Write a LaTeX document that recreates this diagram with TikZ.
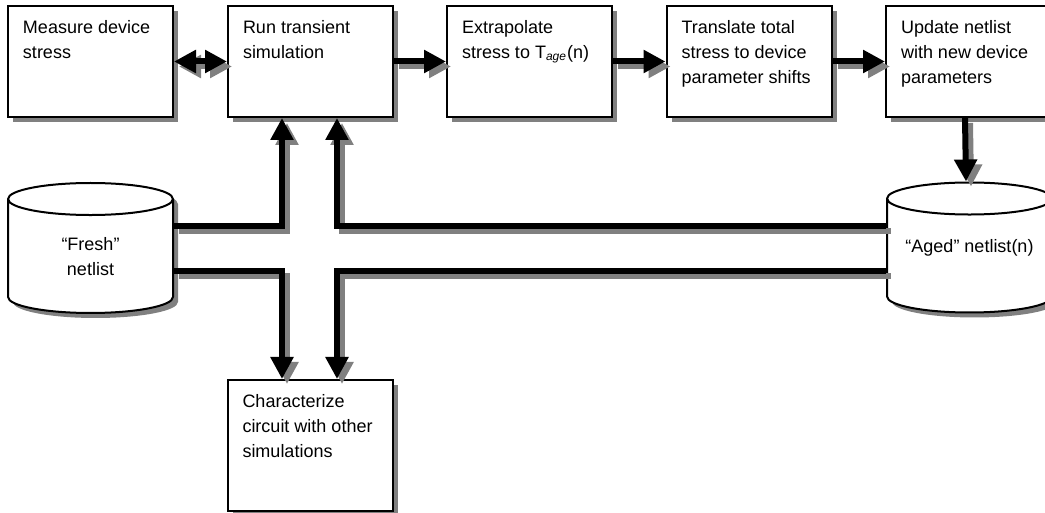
\documentclass[tikz,border=0pt]{standalone}
\usepackage{fontspec}
\setmainfont{Liberation Sans}
\usetikzlibrary{arrows.meta,shapes.geometric,shadows}
\definecolor{shadegray}{RGB}{128,128,128}
\newcommand{\boxtext}[2]{\parbox[c][#1][t]{67.5pt}{\raggedright #2}}
\newcommand{\lift}[2]{\raisebox{#1}[\height][\depth]{#2}}

\begin{document}
\begin{tikzpicture}[x=0.5pt,y=-0.5pt,
font=\fontsize{9}{12.5}\selectfont,
>={Triangle[length=11pt,width=11pt]},
stepbox/.style={draw, line width=1pt, fill=white, inner xsep=7.5pt, inner ysep=7pt,
  drop shadow={shadow xshift=2.5pt, shadow yshift=-2.5pt, fill=shadegray, opacity=1}},
netlist/.style={cylinder, shape border rotate=90, aspect=0.485, draw, line width=1pt,
  fill=white, minimum width=82.5pt, minimum height=65pt, align=center, inner sep=2pt,
  anchor=shape center,
  drop shadow={shadow xshift=2.5pt, shadow yshift=-2.5pt, fill=shadegray, opacity=1}},
shade/.style={preaction={draw=shadegray, line width=3pt, #1,
  transform canvas={xshift=2.5pt,yshift=-2.5pt}}},
conn/.style={line width=3pt, ->, shade=->},
twoway/.style={line width=3pt, <->, shade=<->},
]
\useasboundingbox (0,0) rectangle (1045,513);
\clip (0,0) rectangle (1045,513);

% top row
\node[stepbox] (measure) at (90.5,61.5) {\boxtext{41.5pt}{Measure device\\stress}};
\node[stepbox] (run) at (310.5,61.5) {\boxtext{41.5pt}{Run transient\\simulation}};
\node[stepbox] (extrap) at (529.5,61.5) {\boxtext{41.5pt}{Extrapolate\\stress to T\textsubscript{\textit{age}}(n)}};
\node[stepbox] (transl) at (749,61.5) {\boxtext{41.5pt}{Translate total\\stress to device\\parameter shifts}};
\node[stepbox] (update) at (968.5,61.5) {\boxtext{41.5pt}{Update netlist\\with new device\\parameters}};

% netlists
\node[netlist] (fresh) at (90.5,248) {\lift{1pt}{“Fresh”}\\\lift{1pt}{netlist}};
\node[netlist] (aged) at (969.5,247.5) {\phantom{“Fresh”}\\\phantom{netlist}};
\node (agedtext) at (aged.shape center) {“Aged” netlist(n)};

\node[stepbox] (charact) at (310,445.5) {\boxtext{51.5pt}{Characterize\\circuit with other\\simulations}};

\coordinate (agedup) at ([yshift=10.75pt]aged.shape center);
\coordinate (ageddown) at ([yshift=-11.75pt]aged.shape center);

\draw[twoway] (measure) -- (run);
\draw[conn] (run) -- (extrap);
\draw[conn] (extrap) -- (transl);
\draw[conn] (transl) -- (update);
\draw[conn] ([xshift=-1.75pt]update.south) -- ([xshift=-1.75pt]aged.north);

\draw[conn] ([yshift=16.25pt]fresh.east) -| ([xshift=-14.25pt]run.south);
\draw[conn] (aged.west |- agedup) -| ([xshift=13.25pt]run.south);
\draw[conn] ([yshift=-6.25pt]fresh.east) -| ([xshift=-14pt]charact.north);
\draw[conn] (aged.west |- ageddown) -| ([xshift=13.5pt]charact.north);
\end{tikzpicture}
\end{document}
